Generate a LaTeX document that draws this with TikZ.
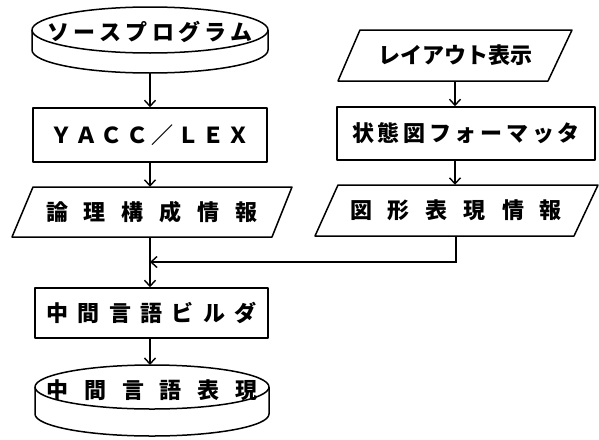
\documentclass[tikz,border=0pt]{standalone}
\usepackage{fontspec}
\newfontfamily\jp{Noto Sans CJK JP}
\usetikzlibrary{arrows.meta}
\tikzset{
  shp/.style={line width=1.5pt, line join=round},
  boxnode/.style={shp, draw, rectangle, inner sep=0pt},
  txt/.style={inner sep=0pt, font=\jp\bfseries\fontsize{22pt}{24pt}\selectfont},
  arr/.style={line width=1.4pt, -{Straight Barb[length=6pt,width=11pt,line width=1.4pt]}},
  lnk/.style={line width=1.4pt}
}
\begin{document}
\begin{tikzpicture}[x=1pt,y=-1pt]
\useasboundingbox (0,0) rectangle (599,439);
% source program cylinder
\draw[shp] (150,30) ellipse [x radius=118pt, y radius=23pt];
\draw[shp] (32,30) -- (32,50) arc[start angle=180, end angle=360, x radius=118pt, y radius=23pt] -- (268,30);
\node[txt] (src) at (150,32) {\makebox[205pt]{ソ\hfill ー\hfill ス\hfill プ\hfill ロ\hfill グ\hfill ラ\hfill ム}};
\coordinate (srcb) at (150,73);
% YACC/LEX
\node[boxnode, txt, draw, line width=1.5pt, minimum width=234pt, minimum height=54pt] (yacc) at (150,135) {\makebox[200pt]{Ｙ\hfill Ａ\hfill Ｃ\hfill Ｃ\hfill ／\hfill Ｌ\hfill Ｅ\hfill Ｘ}};
% logic info parallelogram
\draw[shp] (33,187) -- (292,187) -- (272,237) -- (12,237) -- cycle;
\node[txt, minimum height=50pt] (p1) at (152,212) {\makebox[212pt]{論\hfill 理\hfill 構\hfill 成\hfill 情\hfill 報}};
% builder
\node[boxnode, txt, draw, line width=1.5pt, minimum width=233pt, minimum height=50pt] (bld) at (151.5,313) {\makebox[210pt]{中\hfill 間\hfill 言\hfill 語\hfill ビ\hfill ル\hfill ダ}};
% result cylinder
\draw[shp] (152,387) ellipse [x radius=117pt, y radius=22pt];
\draw[shp] (35,387) -- (35,414) arc[start angle=180, end angle=360, x radius=117pt, y radius=22pt] -- (269,387);
\node[txt] (dst) at (152,390) {\makebox[211pt]{中\hfill 間\hfill 言\hfill 語\hfill 表\hfill 現}};
\coordinate (dstt) at (150,365);
% layout parallelogram
\draw[shp] (360,30) -- (572,30) -- (548,81) -- (338,81) -- cycle;
\node[txt, minimum height=51pt] (lay) at (455,55.5) {レイアウト表示};
% formatter
\node[boxnode, txt, draw, line width=1.5pt, minimum width=258pt, minimum height=53pt] (fmt) at (466,133.5) {\makebox[228pt]{状\hfill 態\hfill 図\hfill フ\hfill ォ\hfill ー\hfill マ\hfill ッ\hfill タ}};
% figure info parallelogram
\draw[shp] (338,185) -- (598,185) -- (574,236) -- (315,236) -- cycle;
\node[txt, minimum height=51pt] (fig) at (456,210.5) {\makebox[212pt]{図\hfill 形\hfill 表\hfill 現\hfill 情\hfill 報}};
\coordinate (j) at (150,262);
% connectors
\draw[arr] (srcb) -- (yacc.north);
\draw[arr] (yacc.south) -- (yacc.south |- p1.north);
\draw[arr] (yacc.south |- p1.south) -- (yacc.south |- bld.north);
\draw[arr] (bld.south -| dstt) -- (dstt);
\draw[arr] (lay.south) -- (lay.south |- fmt.north);
\draw[arr] (lay.south |- fmt.south) -- (lay.south |- fig.north);
\draw[arr] (fig.south) |- (j);
\end{tikzpicture}
\end{document}
